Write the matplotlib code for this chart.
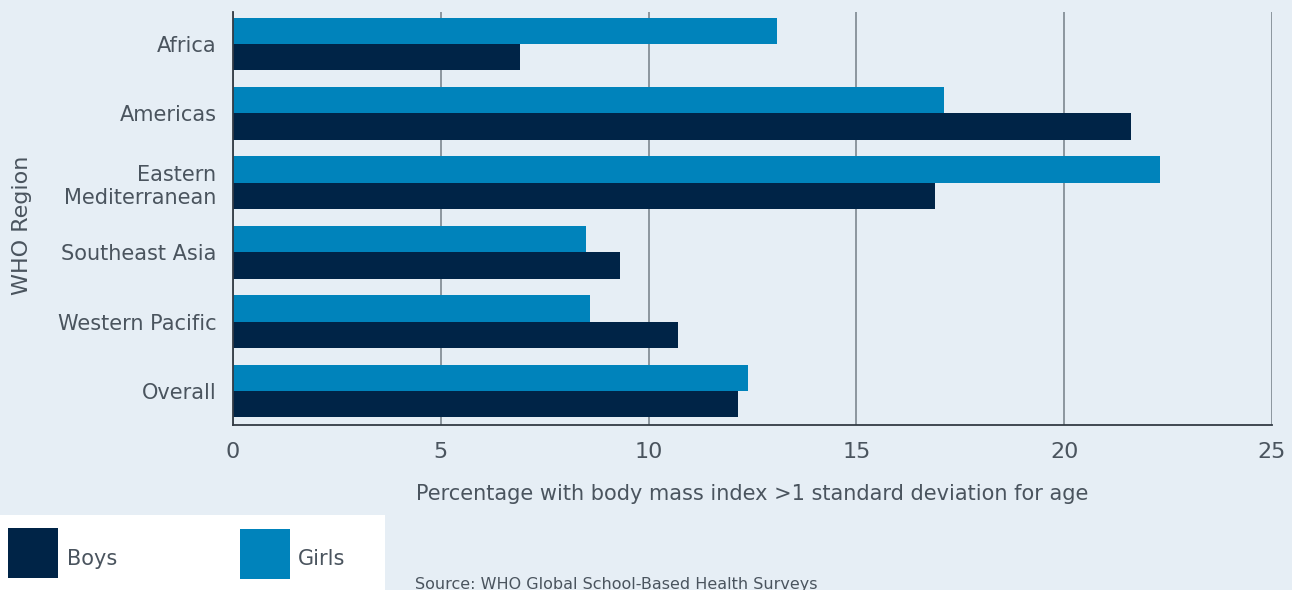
import numpy as np
import matplotlib.pyplot as plt
from matplotlib.patches import Rectangle

plt.rcParams['font.family'] = ['DejaVu Sans']

regions = ['Africa', 'Americas', 'Eastern\nMediterranean', 'Southeast Asia',
           'Western Pacific', 'Overall']
boys = [6.9, 21.6, 16.9, 9.3, 10.7, 12.15]
girls = [13.1, 17.1, 22.3, 8.5, 8.6, 12.4]
xticks = [0, 5, 10, 15, 20, 25]

bg = '#e6eef5'
c_boys = '#002447'
c_girls = '#0083bb'
txt = '#4a545e'

fig = plt.figure(figsize=(12.92, 5.9), dpi=100, facecolor=bg)
ax = fig.add_axes([233 / 1292, 1 - 425 / 590, (1272 - 233) / 1292, (425 - 12) / 590])
ax.set_facecolor(bg)

y = np.arange(len(regions))
h = 0.38
ax.barh(y - h / 2, girls, height=h, color=c_girls, zorder=3)
ax.barh(y + h / 2, boys, height=h, color=c_boys, zorder=3)

ax.set_ylim(5.49, -0.46)
ax.set_xlim(0, 25)
ax.set_xticks(xticks)
ax.set_yticks(y)
ax.set_yticklabels(regions, fontsize=15, color=txt, linespacing=1.2)
ax.tick_params(axis='x', length=0, pad=12, labelsize=16, labelcolor=txt)
ax.tick_params(axis='y', length=0, pad=12)
ax.grid(axis='x', color='#7d8790', linewidth=1.2, zorder=1)
for s in ['top', 'right']:
    ax.spines[s].set_visible(False)
ax.spines['left'].set_color('#333b44')
ax.spines['bottom'].set_color('#333b44')
ax.spines['left'].set_linewidth(1.3)
ax.spines['bottom'].set_linewidth(1.3)
ax.spines['left'].set_zorder(4)

ax.set_xlabel('Percentage with body mass index >1 standard deviation for age',
              fontsize=15, color=txt)
ax.xaxis.set_label_coords((752 - 233) / 1039, -(494 - 425) / 413)
ax.xaxis.label.set_va('center')
ax.set_ylabel('WHO Region', fontsize=16, color=txt)
ax.yaxis.set_label_coords(-(233 - 22) / 1039, (425 - 225) / 413)
ax.yaxis.label.set_va('center')

# legend box
W, H = 1292, 590
def px(x0, y0, w, hh, **kw):
    fig.add_artist(Rectangle((x0 / W, 1 - (y0 + hh) / H), w / W, hh / H,
                             transform=fig.transFigure, **kw))

px(0, 515, 385, 75, facecolor='white', edgecolor='none')
px(8, 528, 50, 50, facecolor=c_boys, edgecolor='none')
px(240, 529, 50, 50, facecolor=c_girls, edgecolor='none')
fig.text(67 / W, 1 - 559 / H, 'Boys', fontsize=15, color=txt, va='center')
fig.text(298 / W, 1 - 559 / H, 'Girls', fontsize=15, color=txt, va='center')
fig.text(415 / W, 1 - 577 / H, 'Source: WHO Global School-Based Health Surveys',
         fontsize=11.5, color=txt, va='top')

fig.savefig('out.png', dpi=100, facecolor=bg)
